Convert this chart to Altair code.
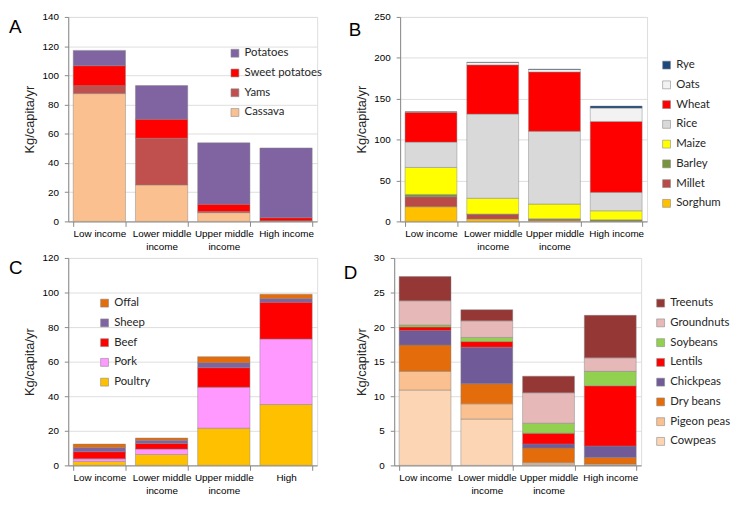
import altair as alt
import pandas as pd

FONT = "Lato"

incomes = ["Low income", "Lower middle income", "Upper middle income", "High income"]
incomes_c = ["Low income", "Lower middle income", "Upper middle income", "High"]

# Panel A: roots & tubers (bottom -> top)
a_series = ["Cassava", "Yams", "Sweet potatoes", "Potatoes"]
a_cassava = [87.5, 25.0, 6.0, 0.3]
a_yams = [5.4, 32.0, 0.8, 0.2]
a_sweet = [13.7, 13.0, 5.0, 2.0]
a_potatoes = [10.5, 23.0, 42.0, 47.8]
a_colors = ["#FAC090", "#C0504D", "#FF0000", "#8064A2"]

# Panel B: cereals (bottom -> top)
b_series = ["Sorghum", "Millet", "Barley", "Maize", "Rice", "Wheat", "Oats", "Rye"]
b_sorghum = [18.0, 3.0, 1.0, 0.5]
b_millet = [12.0, 5.5, 1.5, 0.3]
b_barley = [3.0, 0.5, 0.7, 1.2]
b_maize = [33.0, 19.3, 18.0, 11.0]
b_rice = [31.0, 103.0, 89.0, 22.5]
b_wheat = [36.5, 60.0, 72.5, 86.7]
b_oats = [0.5, 3.0, 3.0, 16.4]
b_rye = [0.0, 0.3, 0.5, 2.4]
b_colors = ["#FFC000", "#B94A48", "#77933C", "#FFFF00", "#D9D9D9", "#FF0000", "#F2F2F2", "#1F497D"]

# Panel C: meat (bottom -> top)
c_series = ["Poultry", "Pork", "Beef", "Sheep", "Offal"]
c_poultry = [2.3, 6.3, 21.5, 35.2]
c_pork = [1.5, 3.1, 23.7, 37.9]
c_beef = [4.1, 3.3, 11.3, 21.3]
c_sheep = [2.5, 1.9, 2.9, 2.1]
c_offal = [1.9, 1.2, 3.5, 2.5]
c_colors = ["#FFC000", "#FF99FF", "#FF0000", "#8064A2", "#E46C0A"]

# Panel D: pulses & nuts (bottom -> top)
d_series = ["Cowpeas", "Pigeon peas", "Dry beans", "Chickpeas", "Lentils", "Soybeans", "Groundnuts", "Treenuts"]
d_cowpeas = [10.9, 6.7, 0.2, 0.05]
d_pigeon = [2.7, 2.2, 0.2, 0.15]
d_drybeans = [3.8, 2.9, 2.1, 0.95]
d_chickpeas = [2.1, 5.3, 0.6, 1.65]
d_lentils = [0.5, 0.8, 1.55, 8.7]
d_soybeans = [0.3, 0.6, 1.45, 2.1]
d_groundnuts = [3.5, 2.4, 4.4, 1.95]
d_treenuts = [3.5, 1.6, 2.4, 6.15]
d_colors = ["#FCD5B5", "#FAC090", "#E46C0A", "#705B98", "#FF0000", "#92D050", "#E6B9B8", "#953735"]

LABEL_EXPR = ("indexof(datum.label, 'middle') > 0 ? "
              "[substring(datum.label, 0, indexof(datum.label, ' income')), 'income'] : datum.label")


def panel(key, cats, series, values, colors, ymax, ystep, letter, lx, ly,
          legend_x, legend_y, width, height):
    rows = []
    for si, (s, vals) in enumerate(zip(series, values)):
        for c, v in zip(cats, vals):
            rows.append({"cat": c, key: s, "value": v, "idx": si})
    df = pd.DataFrame(rows)
    bars = alt.Chart(df).mark_bar(
        stroke="#7F7F7F", strokeWidth=0.6, strokeOpacity=0.75
    ).encode(
        x=alt.X("cat:N", sort=cats, title=None,
                scale=alt.Scale(paddingInner=0.16, paddingOuter=0.08),
                axis=alt.Axis(labelAngle=0, tickBand="extent", labelExpr=LABEL_EXPR,
                              labelLineHeight=13, tickSize=5, labelPadding=2,
                              grid=False, labelFontSize=10, labelBaseline="top")),
        y=alt.Y("value:Q", stack="zero",
                scale=alt.Scale(domain=[0, ymax], nice=False, zero=True),
                axis=alt.Axis(values=list(range(0, ymax + 1, ystep)), title="Kg/capita/yr",
                              tickSize=4, labelPadding=6, titlePadding=5,
                              titleFontSize=13, titleFontWeight="normal",
                              titleColor="#262626", grid=True)),
        color=alt.Color(f"{key}:N",
                        scale=alt.Scale(domain=series[::-1], range=colors[::-1]),
                        legend=alt.Legend(title=None, orient="none", legendX=legend_x,
                                          legendY=legend_y, symbolType="square",
                                          symbolSize=64, symbolStrokeColor="#8C8C8C",
                                          symbolStrokeWidth=0.6, labelFontSize=11.5,
                                          labelColor="#262626", labelFont=FONT,
                                          rowPadding=7, labelOffset=4, padding=0)),
        order=alt.Order("idx:Q", sort="ascending"),
    )
    txt = alt.Chart(pd.DataFrame({"t": [letter]})).mark_text(
        fontSize=19, align="left", baseline="middle", font="Liberation Sans", color="#000000"
    ).encode(text="t:N", x=alt.value(lx), y=alt.value(ly))
    return alt.layer(bars, txt).properties(width=width, height=height)


H_TOP = 207
H_BOT = 210
pa = panel("roots", incomes, a_series, [a_cassava, a_yams, a_sweet, a_potatoes], a_colors,
           140, 20, "A", -60, 10, 163, 31, 252, H_TOP)
pb = panel("cereals", incomes, b_series,
           [b_sorghum, b_millet, b_barley, b_maize, b_rice, b_wheat, b_oats, b_rye],
           b_colors, 250, 50, "B", -52, 13, 264, 43, 250, H_TOP)
pc = panel("meat", incomes_c, c_series, [c_poultry, c_pork, c_beef, c_sheep, c_offal], c_colors,
           120, 20, "C", -60, 10, 31, 40, 252, H_BOT)
pd_ = panel("pulses", incomes, d_series,
            [d_cowpeas, d_pigeon, d_drybeans, d_chickpeas, d_lentils,
             d_soybeans, d_groundnuts, d_treenuts],
            d_colors, 30, 5, "D", -51, 15, 264, 40, 250, H_BOT)

top = alt.hconcat(pa, pb, spacing=25).resolve_scale(color="independent").resolve_legend(color="independent")
bottom = alt.hconcat(pc, pd_, spacing=25).resolve_scale(color="independent").resolve_legend(color="independent")

chart = alt.vconcat(top, bottom, spacing=0).resolve_scale(
    color="independent").resolve_legend(color="independent").properties(
    padding=0).configure_view(stroke="transparent").configure_axis(
    labelFont=FONT, titleFont=FONT, labelColor="#595959", labelFontSize=11,
    domainColor="#BFBFBF", tickColor="#BFBFBF", gridColor="#D9D9D9", gridWidth=1,
).configure(background="white")

chart.save("out.html", embed_options={"renderer": "svg", "actions": False})
